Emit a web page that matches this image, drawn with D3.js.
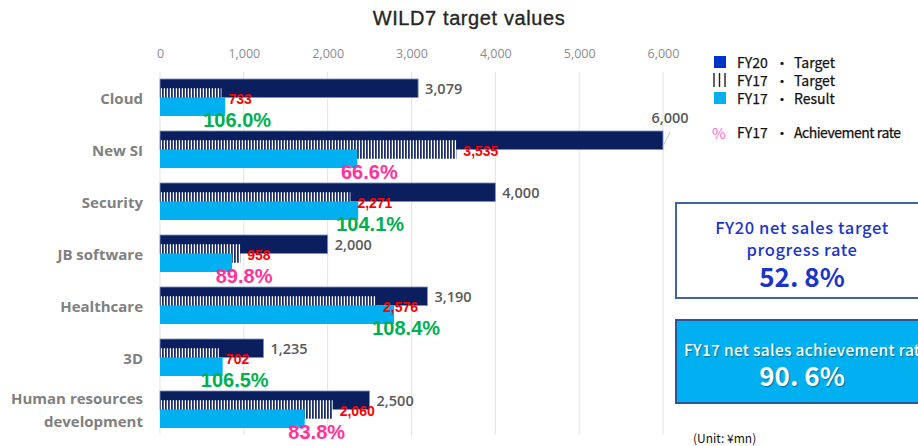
<!DOCTYPE html>
<html>
<head>
<meta charset="utf-8">
<script src="https://cdn.jsdelivr.net/npm/d3@7"></script>
<style>
  html, body { margin: 0; padding: 0; background: #fff; }
  svg { display: block; }
</style>
</head>
<body>
<svg id="chart" width="918" height="446"></svg>
<script>
// ---------- data ----------
const categories = ["Cloud", "New SI", "Security", "JB software", "Healthcare", "3D", "Human resources development"];
const fy20Target = [3079, 6000, 4000, 2000, 3190, 1235, 2500];
const fy17Target = [733, 3535, 2271, 958, 2576, 702, 2060];
const fy17Result = [777, 2354, 2364, 860, 2793, 748, 1726];
const achievementRate = [106.0, 66.6, 104.1, 89.8, 108.4, 106.5, 83.8];
const xTickValues = [0, 1000, 2000, 3000, 4000, 5000, 6000];
const legendItems = [
  { key: "FY20", label: "Target", type: "navy" },
  { key: "FY17", label: "Target", type: "stripe" },
  { key: "FY17", label: "Result", type: "light" },
  { key: "FY17", label: "Achievement rate", type: "pct" }
];
const title = "WILD7 target values";
const box1Lines = ["FY20 net sales target", "progress rate"];
const box1Value = "52. 8%";
const box2Line = "FY17 net sales achievement rate";
const box2Value = "90. 6%";
const unitText = "(Unit: ¥mn)";

// ---------- setup ----------
const svg = d3.select("#chart");
const NAVY = "#0b1f5e", LIGHT = "#00b0f0", GREEN = "#00b050", PINK = "#ff3399";
const CJK = "Noto Sans CJK JP, sans-serif";
const x = d3.scaleLinear().domain([0, 6000]).range([160, 663]);
const y = d3.scaleBand().domain(categories).range([71.5, 435.5]).paddingInner(0.288).paddingOuter(0.144);
const bw = y.bandwidth();
const barH = bw / 2;

// stripe pattern
const defs = svg.append("defs");
const pat = defs.append("pattern").attr("id", "stripes").attr("patternUnits", "userSpaceOnUse")
  .attr("width", 3).attr("height", 10);
pat.append("rect").attr("width", 3).attr("height", 10).attr("fill", "#1d2f6b");
pat.append("rect").attr("x", 1.8).attr("width", 1.2).attr("height", 10).attr("fill", "#ffffff");

// title
svg.append("text").attr("x", 469).attr("y", 25).attr("text-anchor", "middle")
  .attr("font-family", "Liberation Sans, Arial, sans-serif").attr("font-size", 20)
  .attr("letter-spacing", 0.6)
  .attr("fill", "#262626").attr("stroke", "#262626").attr("stroke-width", 0.35).text(title);

// gridlines
svg.append("g").selectAll("line").data(xTickValues).join("line")
  .attr("x1", d => x(d)).attr("x2", d => x(d))
  .attr("y1", 72).attr("y2", 435)
  .attr("stroke", "#e3e3e3").attr("stroke-width", 1);

// top axis
const axis = d3.axisTop(x).tickValues(xTickValues).tickSize(0).tickPadding(0).tickFormat(d3.format(","));
const ag = svg.append("g").attr("transform", "translate(0,58)").call(axis);
ag.select(".domain").remove();
ag.selectAll("text").attr("font-family", "Open Sans, sans-serif").attr("font-size", 12.5).attr("fill", "#8c8c8c");

// bars
const rows = categories.map((c, i) => ({
  c, t20: fy20Target[i], t17: fy17Target[i], r17: fy17Result[i], rate: achievementRate[i]
}));
const g = svg.append("g");
g.selectAll("rect.t20").data(rows).join("rect").attr("class", "t20")
  .attr("x", x(0)).attr("y", d => y(d.c))
  .attr("width", d => x(d.t20) - x(0)).attr("height", barH)
  .attr("fill", NAVY).attr("stroke", "#7d92c2").attr("stroke-width", 0.8);
g.selectAll("rect.t17").data(rows).join("rect").attr("class", "t17")
  .attr("x", x(0)).attr("y", d => y(d.c) + barH / 2)
  .attr("width", d => x(d.t17) - x(0)).attr("height", barH)
  .attr("fill", "url(#stripes)");
g.selectAll("rect.r17").data(rows).join("rect").attr("class", "r17")
  .attr("x", x(0)).attr("y", d => y(d.c) + barH)
  .attr("width", d => x(d.r17) - x(0)).attr("height", barH)
  .attr("fill", LIGHT);

// FY20 labels
const edge = 640;
rows.forEach(d => {
  const ex = x(d.t20);
  const cy = y(d.c) + barH / 2;
  const t = svg.append("text")
    .attr("font-family", "Open Sans, sans-serif").attr("font-weight", 600).attr("font-size", 14.5)
    .attr("dominant-baseline", "central")
    .attr("fill", "#595959").text(d3.format(",")(d.t20));
  if (ex > edge) {
    svg.append("line").attr("x1", ex).attr("y1", y(d.c) + barH * 0.85)
      .attr("x2", ex + 7).attr("y2", y(d.c) + 1)
      .attr("stroke", "#c8c8c8").attr("stroke-width", 1);
    t.attr("x", ex + 7).attr("y", y(d.c) - 13).attr("text-anchor", "middle");
  } else {
    t.attr("x", ex + 7).attr("y", cy);
  }
});

// FY17 target labels (red)
svg.append("g").selectAll("text").data(rows).join("text")
  .attr("x", d => x(d.t17) + 7).attr("y", d => y(d.c) + barH + 1)
  .attr("dominant-baseline", "central")
  .attr("font-family", "Liberation Sans, Arial, sans-serif").attr("font-weight", 700).attr("font-size", 14)
  .attr("fill", "#ff0000").text(d => d3.format(",")(d.t17));

// achievement rate labels
svg.append("g").selectAll("text").data(rows).join("text")
  .attr("x", d => x(d.r17) + 12).attr("y", d => y(d.c) + bw + 4)
  .attr("text-anchor", "middle").attr("dominant-baseline", "central")
  .attr("font-family", "Liberation Sans, Arial, sans-serif").attr("font-weight", 700).attr("font-size", 20)
  .attr("fill", d => d.rate >= 100 ? GREEN : PINK).text(d => d.rate.toFixed(1) + "%");

// category labels
const cl = svg.append("g").selectAll("text").data(rows).join("text")
  .attr("x", 143).attr("y", d => y(d.c) + bw / 2)
  .attr("text-anchor", "end").attr("dominant-baseline", "central")
  .attr("font-family", "Open Sans, sans-serif").attr("font-weight", 700).attr("font-size", 15)
  .attr("fill", "#808080");
cl.each(function(d) {
  const t = d3.select(this);
  t.text(d.c);
  if (this.getComputedTextLength() > 140) {
    const words = d.c.split(" ");
    const last = words.pop();
    t.text(null);
    t.append("tspan").attr("x", 143).attr("dy", "-0.75em").text(words.join(" "));
    t.append("tspan").attr("x", 143).attr("dy", "1.5em").text(last);
  }
});

// legend
const lg = svg.append("g").attr("font-family", CJK).attr("font-size", 14).attr("fill", "#111")
  .attr("stroke", "#111").attr("stroke-width", 0.25);
const legendY = [62, 80, 98, 132];
legendItems.forEach((it, i) => {
  const ly = legendY[i];
  if (it.type === "navy") lg.append("rect").attr("x", 714).attr("y", ly - 6).attr("width", 12).attr("height", 12).attr("fill", "#0033cc").attr("stroke", "none");
  if (it.type === "light") lg.append("rect").attr("x", 714).attr("y", ly - 6).attr("width", 12).attr("height", 12).attr("fill", LIGHT).attr("stroke", "none");
  if (it.type === "stripe") [714, 719.5, 725].forEach(px => lg.append("line").attr("x1", px).attr("x2", px).attr("y1", ly - 7).attr("y2", ly + 7).attr("stroke", "#222").attr("stroke-width", 1.4));
  if (it.type === "pct") lg.append("text").attr("x", 712).attr("y", ly).attr("dominant-baseline", "central").attr("fill", "#ff66cc").attr("stroke", "none").attr("font-size", 15).text("%");
  lg.append("text").attr("x", 737).attr("y", ly).attr("dominant-baseline", "central").text(it.key);
  lg.append("text").attr("x", 782).attr("y", ly).attr("text-anchor", "middle").attr("dominant-baseline", "central").text("・");
  lg.append("text").attr("x", 794).attr("y", ly).attr("dominant-baseline", "central").attr("textLength", it.label.length > 10 ? 107 : null).text(it.label);
});

// boxes
svg.append("rect").attr("x", 676).attr("y", 203).attr("width", 260).attr("height", 95)
  .attr("fill", "#fff").attr("stroke", "#41649b").attr("stroke-width", 2);
const b1 = svg.append("g").attr("font-family", CJK).attr("fill", "#1a35c8").attr("text-anchor", "middle");
box1Lines.forEach((l, i) => b1.append("text").attr("x", 802).attr("y", 227 + i * 22).attr("dominant-baseline", "central")
  .attr("font-size", 16.5).attr("letter-spacing", 0.6).attr("font-weight", 500).text(l));
b1.append("text").attr("x", 802).attr("y", 275).attr("dominant-baseline", "central")
  .attr("font-size", 26).attr("font-weight", 700).text(box1Value);

svg.append("rect").attr("x", 676).attr("y", 320).attr("width", 260).attr("height", 83)
  .attr("fill", LIGHT).attr("stroke", "#2f5597").attr("stroke-width", 2);
const b2 = svg.append("g").attr("font-family", CJK).attr("fill", "#fff")
  .style("text-shadow", "1px 1px 1px rgba(0,0,0,0.35)");
b2.append("text").attr("x", 684).attr("y", 349).attr("dominant-baseline", "central")
  .attr("font-size", 15.5).attr("letter-spacing", 0.3).attr("font-weight", 500).text(box2Line);
b2.append("text").attr("x", 802).attr("y", 374).attr("text-anchor", "middle").attr("dominant-baseline", "central")
  .attr("font-size", 26).attr("font-weight", 700).text(box2Value);

svg.append("text").attr("x", 693).attr("y", 437).attr("dominant-baseline", "central")
  .attr("font-family", CJK).attr("font-size", 12).attr("fill", "#111").text(unitText);
</script>
</body>
</html>
